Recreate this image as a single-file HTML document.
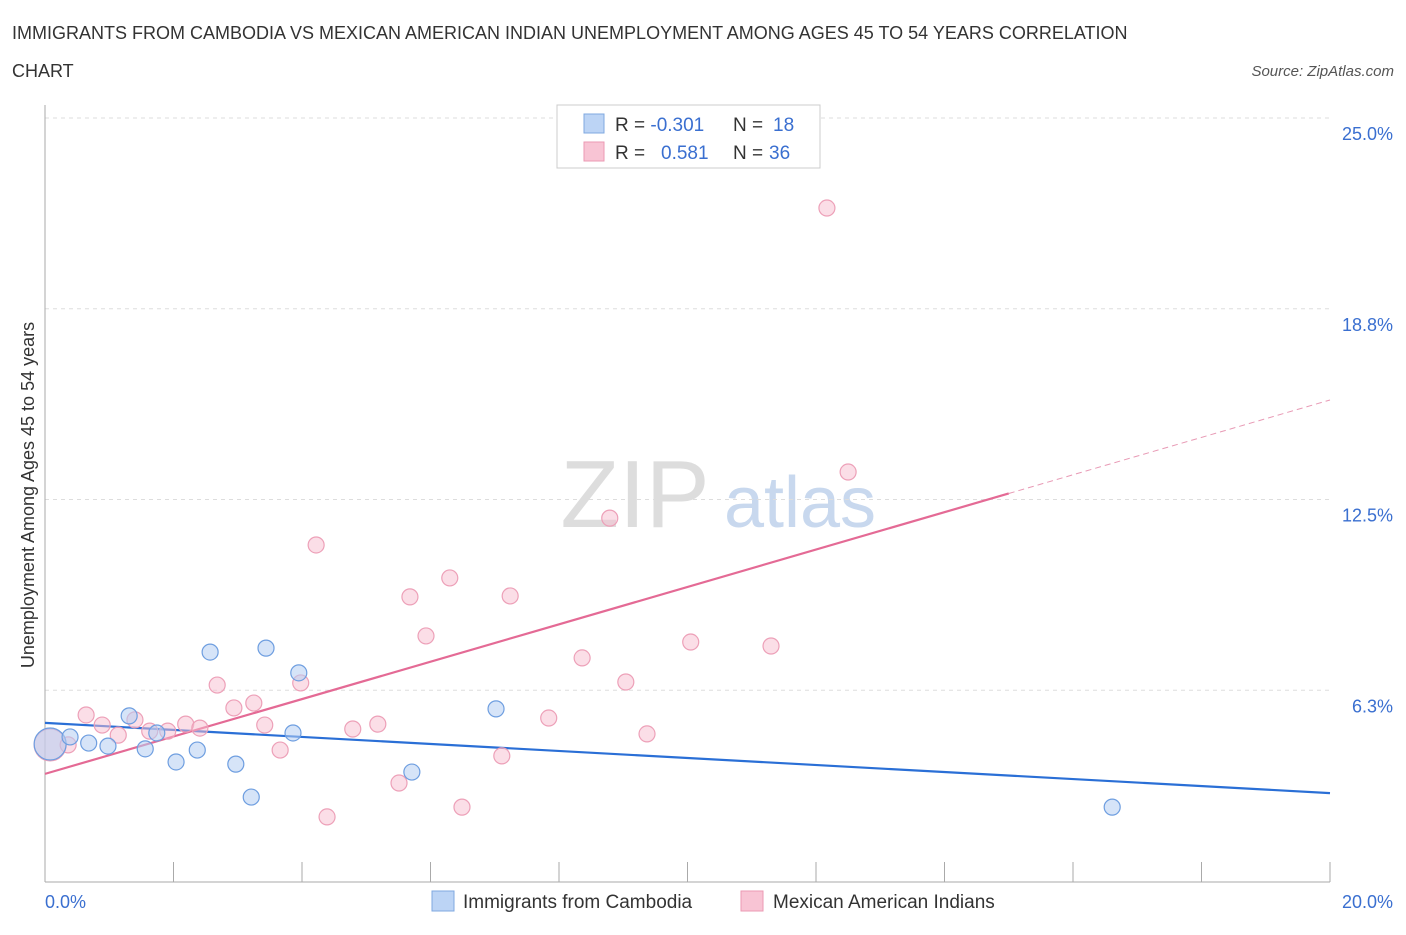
<!DOCTYPE html>
<html><head><meta charset="utf-8"><style>
body{margin:0;background:#fff;font-family:"Liberation Sans",sans-serif;}
svg text{font-family:"Liberation Sans",sans-serif;}
</style></head><body>
<svg id="c" width="1406" height="930">
<text x="12" y="39" font-size="18" fill="#333">IMMIGRANTS FROM CAMBODIA VS MEXICAN AMERICAN INDIAN UNEMPLOYMENT AMONG AGES 45 TO 54 YEARS CORRELATION</text>
<text x="12" y="77" font-size="18" fill="#333">CHART</text>
<text x="1394" y="76" font-size="15" font-style="italic" fill="#555" text-anchor="end">Source: ZipAtlas.com</text>
<text x="635" y="527" font-size="96" font-family="Liberation Serif" fill="#ddd" text-anchor="middle">ZIP</text>
<text x="800" y="527" font-size="72" fill="#c8d8ee" text-anchor="middle">atlas</text>
<g id="grid"></g><g id="axes"></g><g id="lines"></g><g id="pts"></g>
<text transform="translate(34,495) rotate(-90)" font-size="18" fill="#333" text-anchor="middle">Unemployment Among Ages 45 to 54 years</text>
<g>
<rect x="557" y="105" width="263" height="63" fill="#fff" stroke="#ccc"/>
<rect x="584" y="114" width="20" height="19" fill="#bcd4f5" stroke="#7fa8e0"/>
<rect x="584" y="142" width="20" height="19" fill="#f8c4d4" stroke="#eb9ab3"/>
<text x="615" y="131" font-size="19" fill="#333">R = <tspan fill="#3a6fd0">-0.301</tspan><tspan x="733">N = </tspan><tspan x="773" fill="#3a6fd0">18</tspan></text>
<text x="615" y="159" font-size="19" fill="#333">R = <tspan x="661" fill="#3a6fd0">0.581</tspan><tspan x="733">N = </tspan><tspan x="769" fill="#3a6fd0">36</tspan></text>
</g>
<g>
<rect x="432" y="891" width="22" height="20" fill="#bcd4f5" stroke="#7fa8e0"/>
<text x="463" y="908" font-size="19" fill="#333">Immigrants from Cambodia</text>
<rect x="741" y="891" width="22" height="20" fill="#f8c4d4" stroke="#eb9ab3"/>
<text x="773" y="908" font-size="19" fill="#333">Mexican American Indians</text>
</g>
</svg>
<script>
const blueX=[0.08,0.39,0.68,0.98,1.31,1.56,1.74,2.04,2.37,2.57,2.97,3.21,3.44,3.86,3.95,5.71,7.02,16.61];
const blueY=[4.49,4.72,4.52,4.42,5.41,4.33,4.85,3.90,4.29,7.50,3.83,2.75,7.63,4.85,6.82,3.57,5.64,2.42];
const pinkX=[0.08,0.36,0.64,0.89,1.14,1.40,1.63,1.91,2.19,2.41,2.68,2.94,3.25,3.42,3.66,3.98,4.22,4.39,4.79,5.18,5.51,5.68,5.93,6.30,6.49,7.11,7.24,7.84,8.36,8.79,9.04,9.37,10.05,11.30,12.17,12.50];
const pinkY=[4.46,4.46,5.44,5.11,4.78,5.28,4.91,4.91,5.14,5.01,6.42,5.67,5.83,5.11,4.29,6.49,11.01,2.10,4.98,5.14,3.21,9.31,8.03,9.93,2.42,4.10,9.34,5.34,7.31,11.89,6.52,4.82,7.83,7.70,22.05,13.40];
const yTicks=[6.25,12.5,18.75,25];
const yTickLabels=["6.3%","12.5%","18.8%","25.0%"];
const blueTrend=[5.18,2.88];
const pinkTrend=[3.51,15.76];
const pinkSolidEnd=15;
const X=v=>45+v*64.25, Y=v=>881-v*30.52;
const NS="http://www.w3.org/2000/svg";
function mk(t,a,p){const e=document.createElementNS(NS,t);for(const k in a)e.setAttribute(k,a[k]);p.appendChild(e);return e;}
const grid=document.getElementById('grid'),axes=document.getElementById('axes'),lines=document.getElementById('lines'),pts=document.getElementById('pts');
yTicks.forEach((t,i)=>{
 const l=mk('line',{x1:45,x2:1330,y1:Y(t),y2:Y(t),stroke:'#ddd','stroke-dasharray':'4,4'},grid);
 
 
 const tx=mk('text',{x:1393,y:Y(t)+22,'font-size':18,fill:'#3a6fd0','text-anchor':'end'},grid);
 tx.textContent=yTickLabels[i];
 
 
});
const ax=mk('line',{x1:45,x2:1330,y1:882,y2:882,stroke:'#aaa'},axes);


const ay=mk('line',{x1:45,x2:45,y1:105,y2:882,stroke:'#aaa'},axes);


for(let i=0;i<=10;i++){const tk=mk('line',{x1:X(i*2),x2:X(i*2),y1:862,y2:882,stroke:'#aaa'},axes);
 
 }
const xl0=mk('text',{x:45,y:908,'font-size':18,fill:'#3a6fd0'},axes);xl0.textContent='0.0%';


const xl1=mk('text',{x:1393,y:908,'font-size':18,fill:'#3a6fd0','text-anchor':'end'},axes);xl1.textContent='20.0%';


function dot(x,y,i,fill,stroke,name){const c=mk('circle',{cx:X(x),cy:Y(y),r:i===0?16:8,fill:fill,stroke:stroke,'stroke-width':1.2},pts);
 
 }
pinkX.forEach((x,i)=>dot(x,pinkY[i],i,'rgba(248,190,208,0.5)','#eda0b8','point-mexican'));
blueX.forEach((x,i)=>dot(x,blueY[i],i,'rgba(180,205,242,0.55)','#6e9ee0','point-cambodia'));
const bt=mk('line',{x1:X(0),y1:Y(blueTrend[0]),x2:X(20),y2:Y(blueTrend[1]),stroke:'#2a6fd6','stroke-width':2.2},lines);


const ps=pinkTrend[0]+(pinkTrend[1]-pinkTrend[0])*pinkSolidEnd/20;
const pt=mk('line',{x1:X(0),y1:Y(pinkTrend[0]),x2:X(pinkSolidEnd),y2:Y(ps),stroke:'#e46a95','stroke-width':2.2},lines);


const pd=mk('line',{x1:X(pinkSolidEnd),y1:Y(ps),x2:X(20),y2:Y(pinkTrend[1]),stroke:'#e89ab5','stroke-width':1,'stroke-dasharray':'6,4'},lines);


</script>
</body></html>
